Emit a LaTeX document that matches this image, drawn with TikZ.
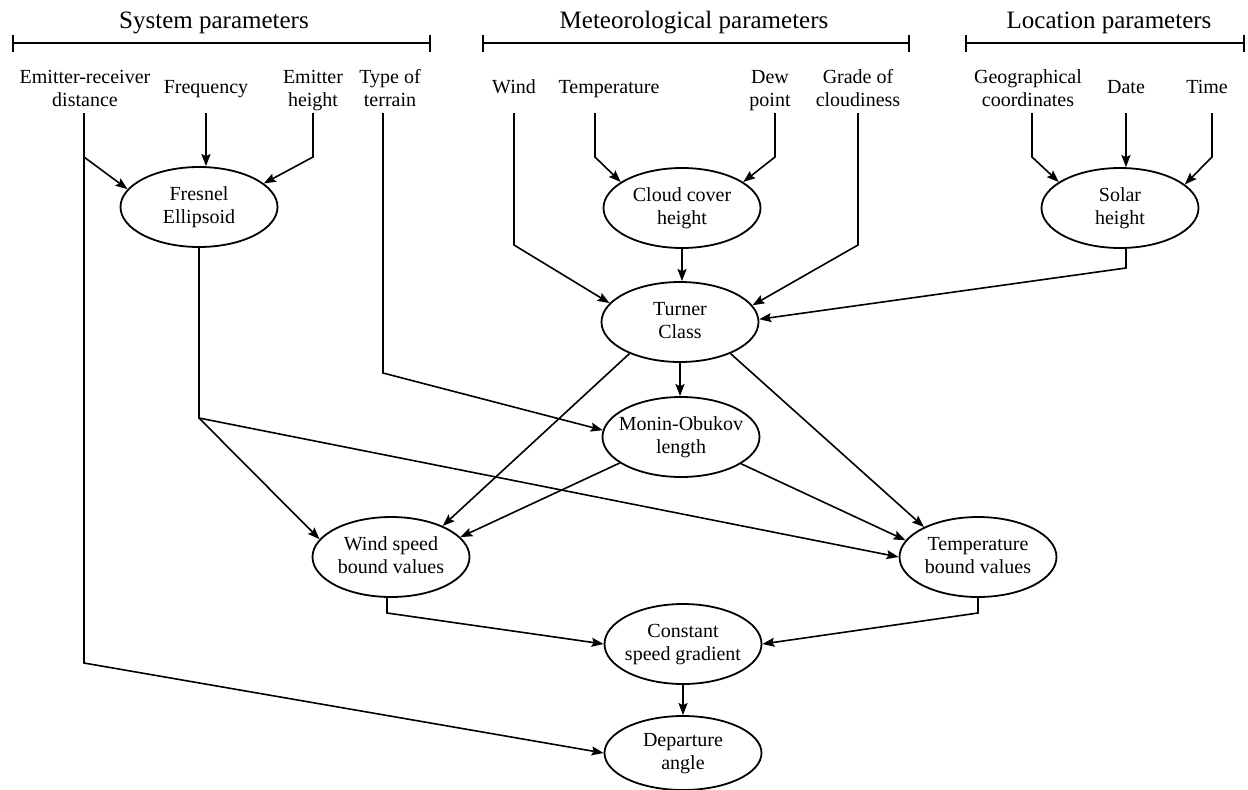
\documentclass[tikz,border=0pt]{standalone}
\usepackage{fontspec}
\setmainfont{Liberation Serif}
\usetikzlibrary{shapes.geometric,arrows.meta}
\newcommand{\ztxt}[1]{\makebox[0pt]{\begin{tabular}{@{}c@{}}#1\end{tabular}}}
\begin{document}
\begin{tikzpicture}[x=1pt,y=-1pt,
  every node/.style={font=\fontsize{20}{23}\selectfont},
  proc/.style={draw, ellipse, line width=1.8pt, minimum width=157pt, minimum height=80pt, inner sep=0pt},
  lbl/.style={anchor=north, align=center, inner sep=0pt},
  hdr/.style={anchor=base, inner sep=0pt, font=\fontsize{25}{28}\selectfont},
  arr/.style={line width=1.6pt, -{Stealth[length=12pt,width=9pt,inset=2pt]}},
  ln/.style={line width=1.6pt},
  brk/.style={line width=2.2pt, {Bar[width=17pt]}-{Bar[width=17pt]}}]
\useasboundingbox (0,0) rectangle (1248,790);

% headers and brackets
\node[hdr] (hsys) at (214,28) {System parameters};
\node[hdr] (hmet) at (694,28) {Meteorological parameters};
\node[hdr] (hloc) at (1109,28) {Location parameters};
\draw[brk] (12,43) -- (431,43);
\draw[brk] (482,43) -- (910,43);
\draw[brk] (965,43) -- (1245,43);

% input labels
\node[lbl] (erd) at (85,67) {\strut Emitter-receiver\\distance};
\node[lbl] (freq) at (206,77) {\strut Frequency};
\node[lbl] (eh) at (313,67) {\strut Emitter\\height};
\node[lbl] (ter) at (390,67) {\strut Type of\\terrain};
\node[lbl] (wind) at (514,77) {\strut Wind};
\node[lbl] (temp) at (609,77) {\strut Temperature};
\node[lbl] (dew) at (770,67) {\strut Dew\\point};
\node[lbl] (grade) at (858,67) {\strut Grade of\\cloudiness};
\node[lbl] (geo) at (1028,67) {\strut Geographical\\coordinates};
\node[lbl] (date) at (1126,77) {\strut Date};
\node[lbl] (time) at (1207,77) {\strut Time};

% process ellipses
\node[proc] (fres) at (199,207) {\ztxt{Fresnel\\Ellipsoid}};
\node[proc] (cloud) at (682,208) {\ztxt{Cloud cover\\height}};
\node[proc] (solar) at (1120,208) {\ztxt{Solar\\height}};
\node[proc] (turn) at (680,322) {\ztxt{Turner\\Class}};
\node[proc] (monin) at (681,437) {\ztxt{Monin-Obukov\\length}};
\node[proc] (wsb) at (391,557) {\ztxt{Wind speed\\bound values}};
\node[proc] (tbv) at (978,557) {\ztxt{Temperature\\bound values}};
\node[proc] (csg) at (683,644) {\ztxt{Constant\\speed gradient}};
\node[proc, minimum height=74pt] (dep) at (683,753) {\ztxt{Departure\\angle}};

% helper levels / columns
\coordinate (ytop) at (0,113);
\coordinate (yturn) at (0,157);
\coordinate (ywt) at (0,245);
\coordinate (ysol) at (0,268);
\coordinate (yter) at (0,373);
\coordinate (yfr) at (0,418);
\coordinate (ywb) at (0,613);
\coordinate (ycor) at (0,663);
\coordinate (erdx) at (84,0);
\coordinate (terx) at (383,0);
\coordinate (tempx) at (595,0);
\coordinate (dewx) at (775,0);
\coordinate (geox) at (1032,0);
\coordinate (timex) at (1212,0);
\coordinate (wbx) at (387,0);

% connectors
\draw[arr] (erdx |- ytop) -- (erdx |- ycor) -- (dep.west);
\draw[arr] (erdx |- yturn) -- (fres.166);
\draw[arr] (freq |- ytop) -- (freq |- fres.north);
\draw[arr] (eh |- ytop) -- (eh |- yturn) -- (fres.20);
\draw[arr] (terx |- ytop) -- (terx |- yter) -- (monin.175);

\draw[arr] (wind |- ytop) -- (wind |- ywt) -- (turn.165);
\draw[arr] (tempx |- ytop) -- (tempx |- yturn) -- (cloud.157);
\draw[arr] (dewx |- ytop) -- (dewx |- yturn) -- (cloud.23);
\draw[arr] (grade |- ytop) -- (grade |- ywt) -- (turn.13);
\draw[arr] (cloud.south) -- (cloud.south |- turn.north);

\draw[arr] (geox |- ytop) -- (geox |- yturn) -- (solar.157);
\draw[arr] (date |- ytop) -- (date |- solar.north);
\draw[arr] (timex |- ytop) -- (timex |- yturn) -- (solar.20);
\draw[arr] (date |- solar.south) -- (date |- ysol) -- (turn.2);

\draw[arr] (turn.south) -- (turn.south |- monin.north);
\draw[arr] (turn.212) -- (wsb.31);
\draw[arr] (turn.328) -- (tbv.151);
\draw[arr] (monin.203) -- (wsb.16);
\draw[arr] (monin.336) -- (tbv.167);

\draw[arr] (fres.south) -- (fres.south |- yfr) -- (wsb.166);
\draw[arr] (fres.south |- yfr) -- (tbv.west);

\draw[arr] (wbx |- wsb.south) -- (wbx |- ywb) -- (csg.west);
\draw[arr] (tbv.south) -- (tbv.south |- ywb) -- (csg.east);
\draw[arr] (csg.south) -- (dep.north);
\end{tikzpicture}
\end{document}
